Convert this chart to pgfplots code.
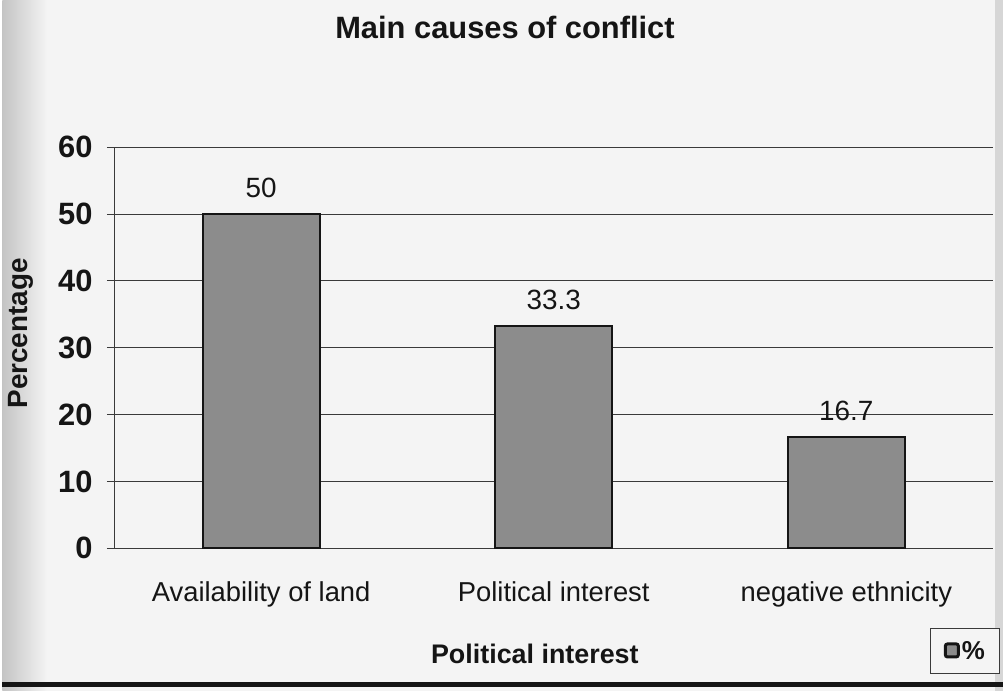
\documentclass[border=0pt]{standalone}
\usepackage{pgfplots}
\pgfplotsset{compat=1.18}
\usepackage{fontspec}
\setmainfont{Liberation Sans}
\definecolor{paper}{HTML}{F4F4F4}
\definecolor{shadow}{HTML}{C4C4C4}
\definecolor{barfill}{HTML}{8C8C8C}
\definecolor{ink}{HTML}{151515}
\definecolor{gridc}{HTML}{3A3A3A}

\begin{document}
\begin{tikzpicture}[x=1pt,y=1pt]
  % page background with a darker shadow along the left edge
  \fill[paper] (0,0) rectangle (1005,694);
  \shade[left color=shadow, right color=paper] (0,0) rectangle (45,694);
  \fill[shadow!70] (997,0) rectangle (1005,694);
  \draw[ink, line width=5pt] (0,6) -- (1005,6);

  \begin{axis}[
    at={(113pt,143pt)}, anchor=south west,
    scale only axis, width=882pt, height=403pt,
    xmin=-0.5, xmax=2.5, ymin=0, ymax=60,
    axis x line*=bottom, axis y line*=left,
    axis line style={gridc, line width=1.1pt},
    ytick={0,10,...,60},
    xtick={0,1,2},
    xticklabels={Availability of land, Political interest, negative ethnicity},
    x tick style={draw=none},
    extra x ticks={-0.5,0.5,1.5,2.5},
    extra x tick labels={},
    extra x tick style={tick style={draw=gridc, line width=1.1pt}, major tick length=8pt, tick align=outside, xmajorgrids=false},
    ymajorgrids,
    grid style={gridc, line width=1.1pt},
    y tick style={gridc, line width=1.1pt},
    tick align=outside, major tick length=8pt,
    /pgf/number format/assume math mode=true,
    yticklabel style={font=\bfseries\fontsize{31}{31}\selectfont, text=ink, xshift=-11pt},
    xticklabel style={font=\fontsize{27.5}{27.5}\selectfont, text=ink, yshift=-22pt},
    ybar, bar width=0.4,
    nodes near coords,
    nodes near coords style={font=\fontsize{28}{28}\selectfont, text=ink, inner sep=0pt, yshift=15pt},
    legend entries={\%},
    legend style={at={(rel axis cs:0.969,-0.256)}, anchor=center,
      draw=gridc, line width=1pt, fill=paper,
      inner xsep=13pt, inner ysep=11pt,
      font=\bfseries\fontsize{26}{26}\selectfont, text=ink},
    legend image code/.code={\draw[fill=barfill, draw=ink, line width=3pt, rounded corners=2pt] (0pt,-6pt) rectangle (13pt,7pt);},
  ]
    \addplot[fill=barfill, draw=ink, line width=2pt]
      coordinates {(0,50) (1,33.3) (2,16.7)};
  \end{axis}

  \node[font=\bfseries\fontsize{31}{31}\selectfont, text=ink] at (505,666) {Main causes of conflict};
  \node[font=\bfseries\fontsize{27}{27}\selectfont, text=ink] at (535,37) {Political interest};
  \node[font=\bfseries\fontsize{28}{28}\selectfont, text=ink, rotate=90] at (18,359) {Percentage};
\end{tikzpicture}
\end{document}
